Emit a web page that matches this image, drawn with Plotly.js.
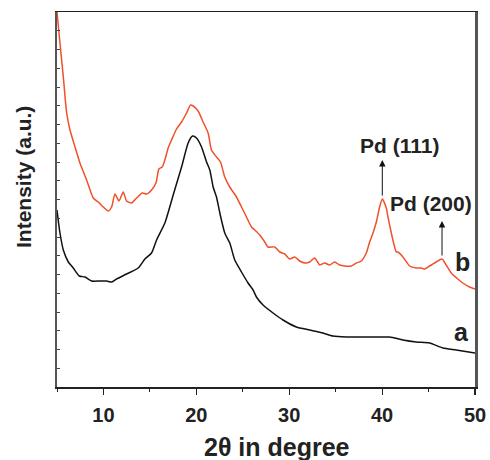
<!DOCTYPE html>
<html>
<head>
<meta charset="utf-8">
<script src="https://cdn.plot.ly/plotly-3.0.1.min.js"></script>
<style>html,body{margin:0;padding:0;background:#fff;}#chart{width:490px;height:460px;}</style>
</head>
<body>
<div id="chart"></div>
<script>
// Curve b (Pd-loaded sample), 2θ in degree vs intensity (a.u.)
var bTheta = [5.0,5.32,5.68,6.04,6.40,6.94,7.47,8.19,8.90,9.44,9.98,10.52,10.88,11.24,11.67,12.13,12.49,13.03,13.57,14.17,14.65,15.18,15.65,15.97,16.32,16.61,16.97,17.33,17.87,18.41,18.95,19.38,19.66,20.19,20.73,21.27,21.63,22.17,22.60,23.06,23.60,24.32,24.86,25.40,25.94,26.29,26.83,27.37,27.72,28.44,28.98,29.52,30.05,30.59,31.13,31.67,32.20,32.74,33.28,33.82,34.35,34.89,35.43,35.97,36.69,37.23,37.76,38.30,38.66,39.02,39.38,39.73,40.02,40.45,40.63,40.99,41.16,41.53,41.70,42.24,42.96,43.68,44.22,44.57,45.11,45.83,46.45,46.90,47.44,48.15,48.69,49.41,50.0];
var bIntensity = [375,344,310,274,257,240,224,207,189,185,180,176,180,193,186,195,186,184,189,194,193,197,204,218,220,227,239,247,258,265,274,282,281,276,265,254,237,230,225,210,200,190,180,170,160,157,152,145,140,140,135,133,128,130,126,124,125,129,122,124,122,125,122,121,121,124,126,134,145,154,165,180,188,179,170,154,147,135,135,130,121,119,119,118,121,125,128,122,114,108,104,100,98];
// Curve a (support)
var aTheta = [5.0,5.32,5.68,6.22,6.75,7.40,8.01,8.73,9.62,10.34,10.88,11.42,12.49,13.74,14.46,15.18,15.72,16.61,17.51,18.41,19.12,19.59,20.02,20.56,21.10,21.45,21.81,22.17,22.53,23.06,23.60,24.14,24.86,25.57,26.11,26.47,27.18,28.26,29.33,30.77,32.20,33.63,34.71,36.15,37.94,39.38,40.81,42.24,43.68,45.11,46.54,47.98,50.0];
var aIntensity = [177,154,137,125,119,111,110,106,106,106,105,108,113,119,128,134,147,164,192,220,244,251,249,240,225,217,200,190,174,154,144,127,115,104,97,90,82,74,67,60,57,54,51,50,50,50,50,47,45,44,39,37,34];

var xTickVals = [10,20,30,40,50];
var xTickText = ['10','20','30','40','50'];

var FONT = 'Liberation Sans, Arial, Helvetica, sans-serif';

var traces = [
  {x: aTheta, y: aIntensity, type:'scatter', mode:'lines', name:'a',
   line:{color:'#111111', width:1.5, shape:'spline', smoothing:0.6}, hoverinfo:'skip'},
  {x: bTheta, y: bIntensity, type:'scatter', mode:'lines', name:'b',
   line:{color:'#f0502a', width:1.5, shape:'spline', smoothing:0.6}, hoverinfo:'skip'}
];

var tickFont = {family:FONT, size:20, color:'#222', weight:'bold'};
var pdFont = {family:FONT, size:21, color:'#222', weight:'bold'};
var letterFont = {family:FONT, size:25, color:'#222', weight:'bold'};

var layout = {
  width:490, height:460,
  margin:{l:57, r:15, t:12, b:73},
  paper_bgcolor:'#fff', plot_bgcolor:'#fff',
  showlegend:false,
  font:{family:FONT},
  xaxis:{
    range:[5,50], tickmode:'array', tickvals:xTickVals, ticktext:xTickText,
    ticks:'outside', ticklen:6, tickwidth:1.2, tickcolor:'#222',
    minor:{dtick:5, tick0:0, ticks:'outside', ticklen:3, tickwidth:1, tickcolor:'#222'},
    showline:true, linecolor:'#222', linewidth:1.5, mirror:true,
    showgrid:false, zeroline:false,
    tickfont:tickFont, ticklabelstandoff:3
  },
  yaxis:{
    range:[0,375], tick0:0, dtick:18.75,
    ticks:'inside', ticklen:3, tickwidth:1, tickcolor:'#444',
    showticklabels:false,
    showline:true, linecolor:'#555', linewidth:2.5, mirror:true,
    showgrid:false, zeroline:false
  },
  annotations:[
    {xref:'paper', yref:'paper', x:0.526, y:-0.16, text:'2θ in degree', showarrow:false,
     xanchor:'center', yanchor:'middle', font:{family:FONT, size:25, color:'#222', weight:'bold'}},
    {xref:'paper', yref:'paper', x:-0.079, y:0.56, text:'Intensity (a.u.)', showarrow:false, textangle:-90,
     xanchor:'center', yanchor:'middle', font:{family:FONT, size:21, color:'#222', weight:'bold'}},
    {x:40.02, y:227, ax:40.02, ay:190, xref:'x', yref:'y', axref:'x', ayref:'y', text:'',
     showarrow:true, arrowhead:2, arrowsize:1.3, arrowwidth:1, arrowcolor:'#111'},
    {x:46.45, y:166, ax:46.45, ay:130, xref:'x', yref:'y', axref:'x', ayref:'y', text:'',
     showarrow:true, arrowhead:2, arrowsize:1.3, arrowwidth:1, arrowcolor:'#111'},
    {x:41.88, y:242, xref:'x', yref:'y', text:'Pd (111)', showarrow:false, font:pdFont},
    {x:45.29, y:184, xref:'x', yref:'y', text:'Pd (200)', showarrow:false, font:pdFont},
    {x:48.66, y:125, xref:'x', yref:'y', text:'b', showarrow:false, font:letterFont},
    {x:48.55, y:55, xref:'x', yref:'y', text:'a', showarrow:false, font:letterFont}
  ]
};

Plotly.newPlot('chart', traces, layout, {displayModeBar:false, staticPlot:true});
</script>
</body>
</html>
